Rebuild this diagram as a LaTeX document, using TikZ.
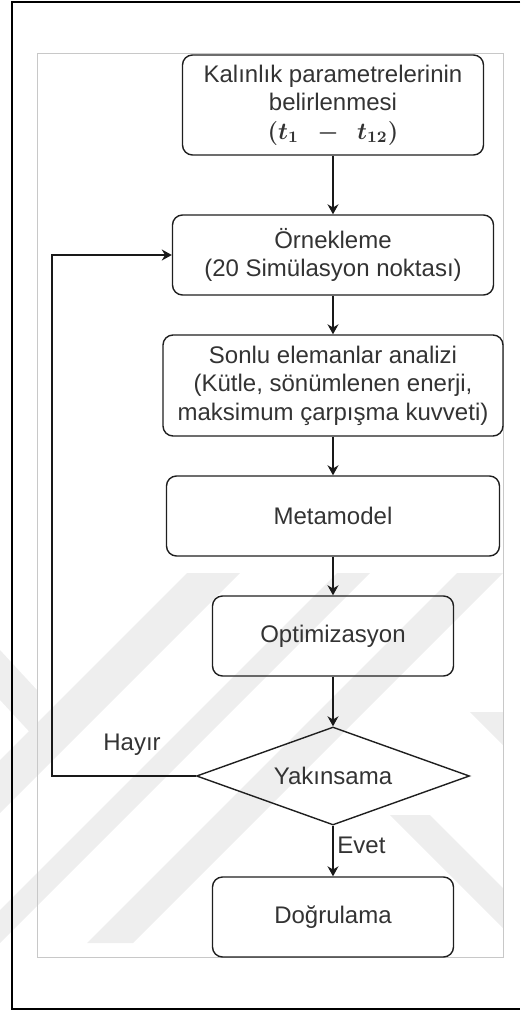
\documentclass[tikz,border=0pt]{standalone}
\usepackage{fontspec}
\setmainfont{Liberation Sans}
\usetikzlibrary{shapes.geometric,arrows.meta}
\definecolor{txt}{HTML}{333333}
\definecolor{wm}{HTML}{EEEEEE}
\definecolor{frame}{HTML}{C8C8C8}
\begin{document}
\begin{tikzpicture}[x=0.5pt,y=-0.5pt,
  box/.style={draw=black!88, line width=0.7pt, rounded corners=5pt, align=center,
    text=txt, font=\fontsize{12}{14.2}\selectfont, inner sep=0pt},
  decbox/.style={draw=black!88, line width=0.7pt, diamond, aspect=2.8, inner sep=0pt,
    text=txt, font=\fontsize{12}{14.2}\selectfont},
  arr/.style={-{Stealth[length=5pt,width=5.5pt,inset=1.6pt]}, line width=0.7pt, draw=black!90},
  lbl/.style={text=txt, font=\fontsize{12}{14.2}\selectfont, inner sep=0pt},
  band/.style={fill=wm, draw=none}]
\useasboundingbox (0,0) rectangle (520,1012);
% watermark bands
\begin{scope}
\clip (0,0) rectangle (520,1012);
\fill[band] (187,573) -- (240,573) -- (-130,943) -- (-183,943) -- cycle;
\fill[band] (337,573) -- (370,573) -- (0,943) -- (-33,943) -- cycle;
\fill[band] (457,573) -- (503,573) -- (133,943) -- (87,943) -- cycle;
\fill[band] (470,712) -- (503,712) -- (503,745) -- cycle;
\fill[band] (390,815) -- (430,815) -- (503,888) -- (503,928) -- cycle;
\fill[band] (0,650) -- (37,690) -- (37,740) -- (0,700) -- cycle;
\end{scope}
% frames
\draw[line width=0.7pt] (520,2) -- (12,2) -- (12,1009) -- (520,1009);
\draw[frame, line width=0.5pt] (37,53) rectangle (503,957);
% nodes
\node[box, minimum width=150.5pt, minimum height=50pt] (kal) at (333,105)
  {Kalınlık parametrelerinin\\belirlenmesi\\{\boldmath$(t_1\;\,-\;\,t_{12})$}};
\node[box, minimum width=160.5pt, minimum height=40pt] (ornek) at (333,255)
  {Örnekleme\\(20 Simülasyon noktası)};
\node[box, minimum width=170pt, minimum height=50.5pt] (sonlu) at (333,385.5)
  {Sonlu elemanlar analizi\\(Kütle, sönümlenen enerji,\\maksimum çarpışma kuvveti)};
\node[box, minimum width=166.5pt, minimum height=40pt] (meta) at (333,516)
  {Metamodel};
\node[box, minimum width=120.5pt, minimum height=40pt] (opt) at (333,636)
  {Optimizasyon};
\node[decbox, minimum width=136.5pt, minimum height=49pt] (yak) at (333,776)
  {Yakınsama};
\node[box, minimum width=120.5pt, minimum height=40pt] (dog) at (333,917)
  {Doğrulama};
\coordinate (lx) at (52,0);
% connectors
\draw[arr] (kal) -- (ornek);
\draw[arr] (ornek) -- (sonlu);
\draw[arr] (sonlu) -- (meta);
\draw[arr] (meta) -- (opt);
\draw[arr] (opt) -- (yak);
\draw[arr] (yak) -- (dog);
\draw[arr] (yak.west) -- (yak.west -| lx) |- (ornek.west);
% labels
\node[lbl] (hayir) at (132,745) {Hayır};
\node[lbl, anchor=west] (evet) at (337,845) {Evet};
\end{tikzpicture}
\end{document}
